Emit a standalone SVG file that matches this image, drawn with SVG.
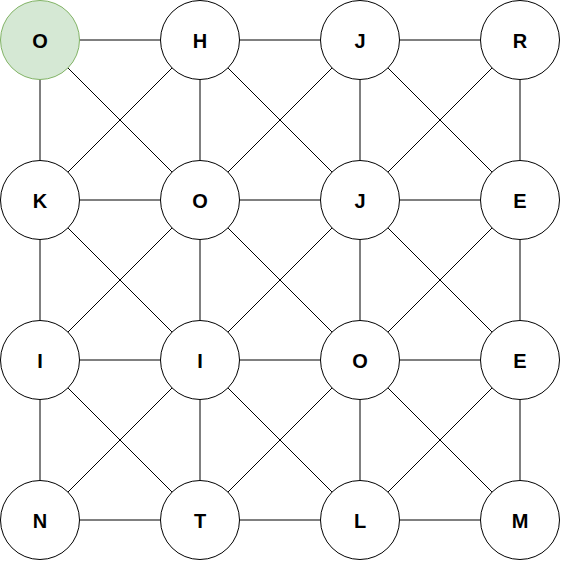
<svg xmlns="http://www.w3.org/2000/svg" width="562" height="562" viewBox="0 0 562 562">
<style>
.e{stroke:#000;stroke-width:1;fill:none}
.n circle{fill:#fff;stroke:#000;stroke-width:1}
.n text{font-family:"Liberation Sans",Arial,sans-serif;font-weight:bold;font-size:20px;text-anchor:middle;fill:#000}
#n00 circle{fill:#d5e8d4;stroke:#82b366}
</style>
<rect width="562" height="562" fill="#fff"/>
<g id="connectors">
<path class="e" d="M40 40H520M40 200H520M40 360H520M40 520H520M40 40V520M200 40V520M360 40V520M520 40V520"/>
<path class="e" d="M40 40L520 520M200 40L520 360M360 40L520 200M40 200L360 520M40 360L200 520"/>
<path class="e" d="M520 40L40 520M360 40L40 360M200 40L40 200M520 200L200 520M520 360L360 520"/>
</g>
<g id="n00" class="n"><circle cx="40" cy="40" r="39.5"/><text x="40" y="48">O</text></g>
<g id="n10" class="n"><circle cx="200" cy="40" r="39.5"/><text x="200" y="48">H</text></g>
<g id="n20" class="n"><circle cx="360" cy="40" r="39.5"/><text x="360" y="48">J</text></g>
<g id="n30" class="n"><circle cx="520" cy="40" r="39.5"/><text x="520" y="48">R</text></g>
<g id="n01" class="n"><circle cx="40" cy="200" r="39.5"/><text x="40" y="208">K</text></g>
<g id="n11" class="n"><circle cx="200" cy="200" r="39.5"/><text x="200" y="208">O</text></g>
<g id="n21" class="n"><circle cx="360" cy="200" r="39.5"/><text x="360" y="208">J</text></g>
<g id="n31" class="n"><circle cx="520" cy="200" r="39.5"/><text x="520" y="208">E</text></g>
<g id="n02" class="n"><circle cx="40" cy="360" r="39.5"/><text x="40" y="368">I</text></g>
<g id="n12" class="n"><circle cx="200" cy="360" r="39.5"/><text x="200" y="368">I</text></g>
<g id="n22" class="n"><circle cx="360" cy="360" r="39.5"/><text x="360" y="368">O</text></g>
<g id="n32" class="n"><circle cx="520" cy="360" r="39.5"/><text x="520" y="368">E</text></g>
<g id="n03" class="n"><circle cx="40" cy="520" r="39.5"/><text x="40" y="528">N</text></g>
<g id="n13" class="n"><circle cx="200" cy="520" r="39.5"/><text x="200" y="528">T</text></g>
<g id="n23" class="n"><circle cx="360" cy="520" r="39.5"/><text x="360" y="528">L</text></g>
<g id="n33" class="n"><circle cx="520" cy="520" r="39.5"/><text x="520" y="528">M</text></g>
</svg>
